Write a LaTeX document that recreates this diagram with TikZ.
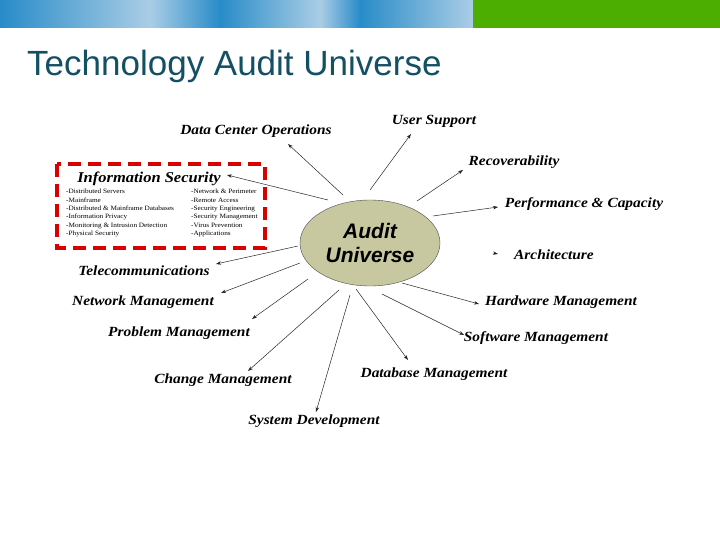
\documentclass[tikz,border=0pt]{standalone}
\usepackage{fontspec}
\setmainfont{Liberation Serif}
\newfontfamily\arialf{Liberation Sans}
\newfontfamily\labf[FakeStretch=1.1]{Liberation Serif}
\usetikzlibrary{arrows.meta,shapes.geometric}
\definecolor{titlec}{RGB}{20,80,100}
\definecolor{olivec}{RGB}{200,200,160}
\definecolor{blueA}{RGB}{40,140,200}
\definecolor{blueB}{RGB}{170,205,230}
\definecolor{greenc}{RGB}{76,175,0}
\tikzset{
  lab/.style={font=\labf\bfseries\itshape\fontsize{14}{14}\selectfont, inner sep=0pt},
  itm/.style={font=\labf\fontsize{6.6}{8.4}\selectfont, inner sep=0pt, align=left, anchor=north west},
  arr/.style={-{Stealth[length=5pt,width=3.5pt]}, line width=0.5pt, black!85}
}
\begin{document}
\begin{tikzpicture}[x=1pt,y=-1pt]
\useasboundingbox (0,0) rectangle (720,540);
\fill[white] (0,0) rectangle (720,540);
\shade[left color=blueA, right color=blueB] (0,0) rectangle (150,28);
\shade[left color=blueB, right color=blueA] (150,0) rectangle (220,28);
\shade[left color=blueA, right color=blueB] (220,0) rectangle (320,28);
\shade[left color=blueB, right color=blueA] (320,0) rectangle (360,28);
\shade[left color=blueA, right color=blueB] (360,0) rectangle (473,28);
\fill[greenc] (473,0) rectangle (720,28);
\node[anchor=base west, inner sep=0pt, text=titlec, font=\arialf\fontsize{35}{35}\selectfont] (title) at (27,76) {Technology Audit Universe};

\node[ellipse, draw=black!70, fill=olivec, minimum width=140, minimum height=86, inner sep=0pt,
  font=\arialf\bfseries\itshape\fontsize{21}{24}\selectfont, align=center] (au) at (370,243) {Audit\\Universe};

\draw[red!85!black, line width=3.5pt, dash pattern=on 13pt off 7pt] (57,164) rectangle (265,248);
\node[lab, font=\labf\bfseries\itshape\fontsize{15}{15}\selectfont] (is) at (149,179) {Information Security};
\node[itm] (isl) at (66,189) {-Distributed Servers\\-Mainframe\\-Distributed \& Mainframe Databases\\-Information Privacy\\-Monitoring \& Intrusion Detection\\-Physical Security};
\node[itm] (isr) at (191,189) {-Network \& Perimeter\\-Remote Access\\-Security Engineering\\-Security Management\\-Virus Prevention\\-Applications};

\node[lab] (dco) at (256,131) {Data Center Operations};
\node[lab] (us) at (434,121) {User Support};
\node[lab] (rec) at (514,162) {Recoverability};
\node[lab] (pc) at (584,204) {Performance \& Capacity};
\node[lab] (arc) at (554,255) {Architecture};
\node[lab] (hw) at (561,302) {Hardware Management};
\node[lab] (sw) at (536,338) {Software Management};
\node[lab] (db) at (434,374) {Database Management};
\node[lab] (sd) at (314,421) {System Development};
\node[lab] (cm) at (223,380) {Change Management};
\node[lab] (pm) at (179,333) {Problem Management};
\node[lab] (nm) at (143,302) {Network Management};
\node[lab] (tc) at (144,271) {Telecommunications};

\coordinate (a1) at (343,195); \coordinate (t1) at (288,144);
\coordinate (a2) at (370,190); \coordinate (t2) at (411,134);
\coordinate (a3) at (417,201); \coordinate (t3) at (463,170);
\coordinate (a4) at (433,216); \coordinate (t4) at (498,207);
\coordinate (a5) at (493,253); \coordinate (t5) at (498,254);
\coordinate (a6) at (402,283); \coordinate (t6) at (479,304);
\coordinate (a7) at (382,294); \coordinate (t7) at (464,335);
\coordinate (a8) at (356,289); \coordinate (t8) at (408,360);
\coordinate (a9) at (350,295); \coordinate (t9) at (316,412);
\coordinate (a10) at (339,290); \coordinate (t10) at (248,371);
\coordinate (a11) at (308,279); \coordinate (t11) at (252,319);
\coordinate (a12) at (300,263); \coordinate (t12) at (221,293);
\coordinate (a13) at (298,246); \coordinate (t13) at (216,264);
\coordinate (a14) at (328,200); \coordinate (t14) at (227,175);
\foreach \i in {1,...,14} \draw[arr] (a\i) -- (t\i);
\end{tikzpicture}
\end{document}
